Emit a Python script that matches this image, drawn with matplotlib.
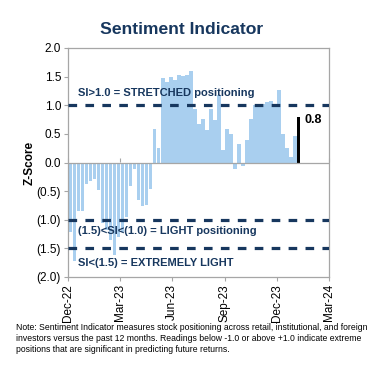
import matplotlib
matplotlib.use("Agg")
import matplotlib.pyplot as plt
import matplotlib.dates as mdates
import numpy as np
import datetime as dt

plt.rcParams['font.family'] = ['Liberation Sans', 'DejaVu Sans']

# ---- data ----
start_week = dt.date(2022, 12, 2)
values = [
    -1.22, -1.72, -0.85, -0.84, -0.37, -0.33, -0.29, -0.48, -1.05, -1.18,
    -1.35, -1.62, -1.30, -1.22, -0.95, -0.41, -0.12, -0.65, -0.76, -0.74,
    -0.47,
    0.59, 0.25, 1.47, 1.41, 1.50, 1.44, 1.53, 1.51, 1.53, 1.59,
    0.94, 0.68, 0.76, 0.56, 0.94, 0.74, 1.18, 0.22, 0.59, 0.50,
    -0.12, 0.32, -0.06, 0.40, 0.76, 1.00, 1.02, 1.02, 1.05, 1.08,
    1.02, 1.26, 0.50, 0.25, 0.10, 0.46, 0.80,
]
dates = [start_week + dt.timedelta(days=7 * i) for i in range(len(values))]
tick_dates = [dt.date(2022, 12, 1), dt.date(2023, 3, 1), dt.date(2023, 6, 1),
              dt.date(2023, 9, 1), dt.date(2023, 12, 1), dt.date(2024, 3, 1)]
tick_labels = ["Dec-22", "Mar-23", "Jun-23", "Sep-23", "Dec-23", "Mar-24"]
y_ticks = [2.0, 1.5, 1.0, 0.5, 0.0, -0.5, -1.0, -1.5, -2.0]
y_labels = ["2.0", "1.5", "1.0", "0.5", "0.0", "(0.5)", "(1.0)", "(1.5)", "(2.0)"]
thresholds = [1.0, -1.0, -1.5]
latest_label = "0.8"

navy = "#17375E"
bar_blue = "#A9CFEF"
grey = "#A6A6A6"

fig = plt.figure(figsize=(3.81, 3.65), dpi=100)
ax = fig.add_axes([68 / 381, 1 - 277 / 365, 261 / 381, 229 / 365])

x = mdates.date2num(dates)
colors = [bar_blue] * (len(values) - 1) + ["black"]
widths = [6.6] * (len(values) - 1) + [5.0]
ax.bar(x, values, width=widths, align='edge', color=colors, edgecolor='none', zorder=2)

for t in thresholds:
    ax.axhline(t, color=navy, lw=2.3, ls=(0, (2.7, 2.6)), zorder=3)

ax.set_xlim(mdates.date2num(tick_dates[0]), mdates.date2num(tick_dates[-1]))
ax.set_ylim(-2.0, 2.0)
ax.set_yticks(y_ticks)
ax.set_yticklabels(y_labels, fontsize=8.5)
ax.set_xticks(mdates.date2num(tick_dates))
ax.set_xticklabels(tick_labels, rotation=90, fontsize=8.5)
ax.tick_params(axis='both', length=3, color=grey, width=0.8, pad=2)

for s in ax.spines.values():
    s.set_color(grey)
    s.set_linewidth(0.9)

# zero axis line with ticks
ax.axhline(0, color=grey, lw=0.9, zorder=2.5)
sec = ax.secondary_xaxis(0.5)
sec.set_xticks(mdates.date2num(tick_dates))
sec.set_xticklabels([])
sec.tick_params(length=3, color=grey, width=0.8, direction='out')
for s in sec.spines.values():
    s.set_visible(False)

ax.set_ylabel("Z-Score", fontsize=8.5, fontweight='bold')
ax.yaxis.set_label_coords(-0.125, 0.5)

txt_kw = dict(color=navy, fontsize=8.0, fontweight='bold', zorder=4)
x_txt = mdates.date2num(dt.date(2022, 12, 18))
ax.text(x_txt, 1.22, "SI>1.0 = STRETCHED positioning", va='center', ha='left', **txt_kw)
ax.text(x_txt, -1.2, "(1.5)<SI<(1.0) = LIGHT positioning", va='center', ha='left', **txt_kw)
ax.text(x_txt, -1.76, "SI<(1.5) = EXTREMELY LIGHT", va='center', ha='left', **txt_kw)

ax.text(x[-1] + 14, values[-1] - 0.05, latest_label, fontsize=9, fontweight='bold',
        color='black', va='center', ha='left', zorder=4)

fig.text(182 / 381, 1 - 30 / 365, "Sentiment Indicator", fontsize=12.6, fontweight='bold',
         color=navy, ha='center', va='center')

note = ("Note: Sentiment Indicator measures stock positioning across retail, institutional, and foreign\n"
        "investors versus the past 12 months. Readings below -1.0 or above +1.0 indicate extreme\n"
        "positions that are significant in predicting future returns.")
fig.text(16 / 381, 1 - 323 / 365, note, fontsize=6.2, color='black', ha='left', va='top',
         linespacing=1.3)

fig.savefig("out.png", dpi=100)
